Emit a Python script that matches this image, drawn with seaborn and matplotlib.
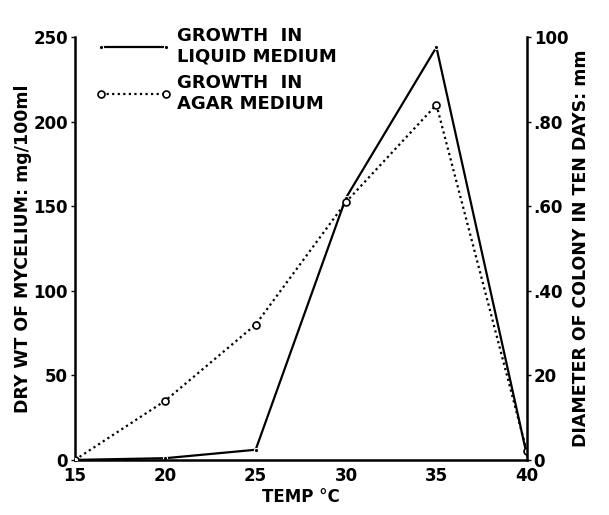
import matplotlib
matplotlib.use("Agg")
import matplotlib.pyplot as plt
import seaborn as sns
import pandas as pd

temps = [15, 20, 25, 30, 35, 40]
liquid_mg = [0, 1, 6, 155, 244, 3]
agar_mm = [0, 14, 32, 61, 84, 2]

sns.set_theme(style="white")
plt.rcParams['font.family'] = ['DejaVu Sans']
plt.rcParams['font.weight'] = 'bold'
plt.rcParams['text.color'] = 'black'
plt.rcParams['axes.labelcolor'] = 'black'

df = pd.DataFrame({"temp": temps, "liquid": liquid_mg, "agar": agar_mm})

fig = plt.figure(figsize=(6.09, 5.15), dpi=100)
ax = fig.add_axes([0.123, 0.107, 0.742, 0.821])
ax2 = ax.twinx()

sns.lineplot(data=df, x="temp", y="liquid", ax=ax, color="black", lw=1.6,
             marker="o", markersize=3, label="GROWTH  IN\nLIQUID MEDIUM", legend=False)
sns.lineplot(data=df, x="temp", y="agar", ax=ax2, color="black", lw=1.6,
             linestyle=(0, (1, 1.5)), marker="o", markersize=5,
             markerfacecolor="white", markeredgecolor="black", markeredgewidth=1.2,
             label="GROWTH  IN\nAGAR MEDIUM", legend=False)

ax.set_xlim(15, 40)
ax.set_ylim(0, 250)
ax2.set_ylim(0, 100)
ax.set_xticks(temps)
ax.set_yticks([0, 50, 100, 150, 200, 250])
ax2.set_yticks([0, 20, 40, 60, 80, 100])
ax2.set_yticklabels(["0", "20", ".40", ".60", ".80", "100"])

for a in (ax, ax2):
    a.spines["top"].set_visible(False)
    for s in ("left", "right", "bottom"):
        a.spines[s].set_color("black")
        a.spines[s].set_linewidth(1.8)
    a.tick_params(axis="both", which="both", length=3, width=1, colors="black",
                  labelsize=12, pad=2)
ax.spines["right"].set_visible(False)
ax2.spines["left"].set_visible(False)
ax2.spines["bottom"].set_visible(False)

ax.set_xlabel("TEMP °C", fontsize=12, fontweight="bold", labelpad=2)
ax.set_ylabel("DRY WT OF MYCELIUM: mg/100ml", fontsize=12.5, fontweight="bold", labelpad=1)
ax2.set_ylabel("DIAMETER OF COLONY IN TEN DAYS: mm", fontsize=12.5, fontweight="bold", labelpad=3)

h1, l1 = ax.get_legend_handles_labels()
h2, l2 = ax2.get_legend_handles_labels()
leg = fig.legend(h1 + h2, l1 + l2, loc="upper left", bbox_to_anchor=(0.13, 0.98),
                 frameon=False, numpoints=2, handlelength=4.2, fontsize=13,
                 labelspacing=0.5, handletextpad=0.3)
for t in leg.get_texts():
    t.set_fontweight("bold")
    t.set_color("black")

fig.savefig("out.png", dpi=100)
